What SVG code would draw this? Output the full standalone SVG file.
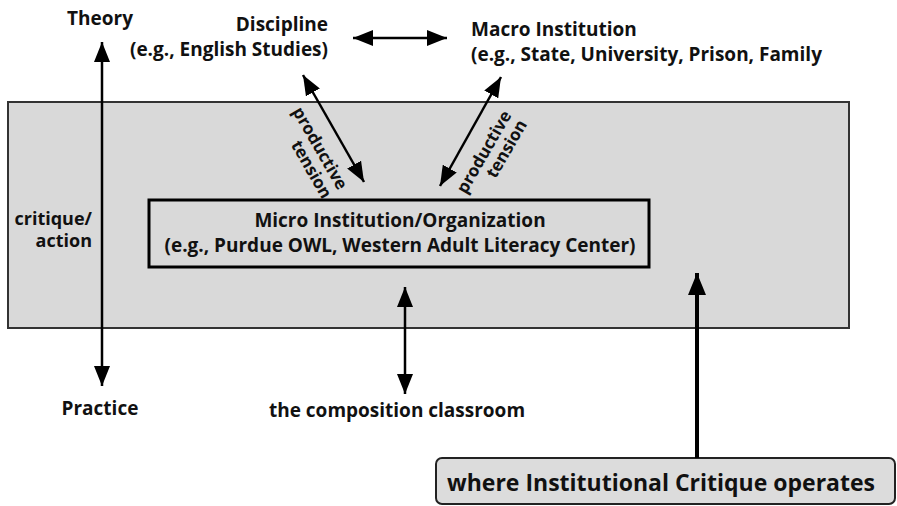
<svg xmlns="http://www.w3.org/2000/svg" width="897" height="506" viewBox="0 0 897 506">
<defs>
<style>
text{font-family:"Open Sans","Noto Sans","Liberation Sans",sans-serif;font-weight:bold;fill:#111;}
.t19{font-size:19px;}
.t18{font-size:18px;}
.t17{font-size:17px;}
.t23{font-size:23px;}
.c{text-anchor:middle;}
.r{text-anchor:end;}
.ln{stroke:#000;stroke-width:2.5;fill:none;}
.thick{stroke:#000;stroke-width:4;fill:none;}
</style>
<marker id="ah" markerUnits="userSpaceOnUse" markerWidth="20" markerHeight="16" refX="20" refY="8" orient="auto-start-reverse" viewBox="0 0 20 16">
<path d="M0,0 L20,8 L0,16 z" fill="#000"/>
</marker>
<marker id="ahb" markerUnits="userSpaceOnUse" markerWidth="22" markerHeight="18" refX="22" refY="9" orient="auto-start-reverse" viewBox="0 0 22 18">
<path d="M0,0 L22,9 L0,18 z" fill="#000"/>
</marker>
</defs>
<rect width="897" height="506" fill="#fff"/>
<g id="operating-area">
<rect x="8" y="102" width="841" height="226" fill="#d9d9d9" stroke="#333" stroke-width="2"/>
</g>
<g id="micro">
<rect x="149" y="200" width="500" height="67" fill="#d9d9d9" stroke="#000" stroke-width="3"/>
<text class="t19 c" x="400" y="227">Micro Institution/Organization</text>
<text class="t19 c" x="400" y="252">(e.g., Purdue OWL, Western Adult Literacy Center)</text>
</g>
<g id="theory"><text class="t19 c" x="100" y="25">Theory</text></g>
<g id="practice"><text class="t19 c" x="100" y="415">Practice</text></g>
<g id="discipline">
<text class="t19 r" x="328" y="31">Discipline</text>
<text class="t19 r" x="328" y="56">(e.g., English Studies)</text>
</g>
<g id="macro">
<text class="t19" x="471" y="36">Macro Institution</text>
<text class="t19" x="471" y="61">(e.g., State, University, Prison, Family</text>
</g>
<g id="classroom"><text class="t19 c" x="397" y="417">the composition classroom</text></g>
<g id="ic">
<rect x="436" y="458" width="459" height="46" rx="6" fill="#dcdcdc" stroke="#222" stroke-width="2"/>
<text class="t23" x="447" y="491">where Institutional Critique operates</text>
</g>
<g id="connectors">
<line class="ln" x1="102" y1="42" x2="102" y2="386" marker-start="url(#ah)" marker-end="url(#ah)"/>
<line class="ln" x1="353" y1="38" x2="447" y2="38" marker-start="url(#ah)" marker-end="url(#ah)"/>
<line class="ln" x1="303" y1="75" x2="364" y2="182" marker-start="url(#ah)" marker-end="url(#ah)"/>
<line class="ln" x1="501" y1="77" x2="440" y2="186" marker-start="url(#ah)" marker-end="url(#ah)"/>
<line class="ln" x1="405" y1="287" x2="405" y2="394" marker-start="url(#ah)" marker-end="url(#ah)"/>
<line class="thick" x1="697" y1="458" x2="697" y2="273" marker-end="url(#ahb)"/>
<text class="t18 r" x="92" y="225">critique/</text>
<text class="t18 r" x="92" y="247">action</text>
<g transform="translate(338,191) rotate(60)">
<text class="t17 r" x="0" y="0">productive</text>
<text class="t17 r" x="0" y="18">tension</text>
</g>
<g transform="translate(512,115) rotate(-60)">
<text class="t17 r" x="0" y="0">productive</text>
<text class="t17 r" x="0" y="18">tension</text>
</g>
</g>
</svg>
